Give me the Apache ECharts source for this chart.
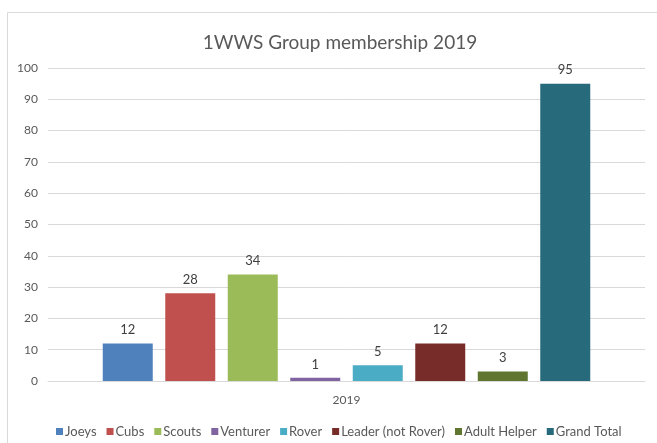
<!DOCTYPE html>
<html>
<head>
<meta charset="utf-8">
<script src="https://cdn.jsdelivr.net/npm/echarts@6/dist/echarts.min.js"></script>
<style>
html,body{margin:0;padding:0;background:#fff;}
#chart{width:657px;height:443px;}
</style>
</head>
<body>
<div id="chart"></div>
<script>
var categories = ['2019'];
var seriesNames = ['Joeys', 'Cubs', 'Scouts', 'Venturer', 'Rover', 'Leader (not Rover)', 'Adult Helper', 'Grand Total'];
var seriesValues = [12, 28, 34, 1, 5, 12, 3, 95];
var seriesColors = ['#4F81BD', '#C0504D', '#9BBB59', '#8064A2', '#4BACC6', '#772C2A', '#5F7530', '#276A7C'];
var yTicks = [0, 100, 10];

var font = 'Lato, "Open Sans", sans-serif';
var chart = echarts.init(document.getElementById('chart'), null, {renderer: 'canvas'});
var series = seriesNames.map(function (name, i) {
  return {
    name: name,
    type: 'bar',
    data: [seriesValues[i]],
    barWidth: 50,
    barGap: '25%',
    itemStyle: {color: seriesColors[i]},
    label: {show: true, position: 'top', distance: 7, color: '#404040', fontSize: 13, fontFamily: font}
  };
});
chart.setOption({
  animation: false,
  backgroundColor: '#fff',
  title: {
    text: '1WWS Group membership 2019',
    left: 335, top: 28, textAlign: 'center',
    textStyle: {fontSize: 19, fontWeight: 'normal', color: '#595959', fontFamily: font}
  },
  graphic: [{
    type: 'rect', shape: {x: 7.5, y: 12.5, width: 700, height: 500},
    style: {fill: 'none', stroke: '#d9d9d9', lineWidth: 1}, silent: true, z: -1
  }],
  legend: {
    data: seriesNames,
    left: 51, top: 420, width: 600,
    icon: 'rect', itemWidth: 7, itemHeight: 7, itemGap: 10,
    textStyle: {fontSize: 13, color: '#595959', fontFamily: font, padding: [0, 0, 0, -3]}
  },
  grid: {left: 48, right: 12, top: 68, bottom: 62},
  xAxis: {
    type: 'category', data: categories,
    axisLine: {lineStyle: {color: '#d9d9d9', width: 1}},
    axisTick: {show: false},
    axisLabel: {color: '#595959', fontSize: 12, fontFamily: font, margin: 13}
  },
  yAxis: {
    type: 'value', min: yTicks[0], max: yTicks[1], interval: yTicks[2],
    axisLine: {show: false}, axisTick: {show: false},
    splitLine: {lineStyle: {color: '#d9d9d9', width: 1}},
    axisLabel: {color: '#595959', fontSize: 12, fontFamily: font, margin: 10}
  },
  series: series
});
</script>
</body>
</html>
